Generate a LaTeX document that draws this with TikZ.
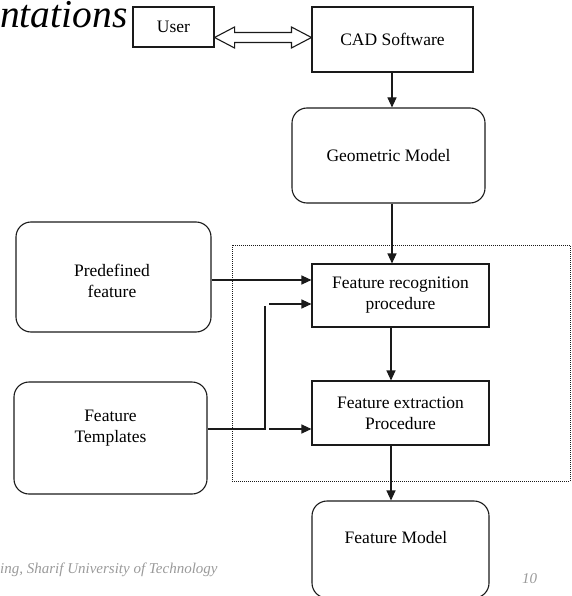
\documentclass[tikz,border=0pt]{standalone}
\usepackage{fontspec}
\setmainfont{Liberation Serif}
\usetikzlibrary{arrows.meta,calc}
\definecolor{ftgray}{HTML}{9A9A9A}
\definecolor{ink}{HTML}{1A1A1A}
\begin{document}
\begin{tikzpicture}[x=1pt,y=-1pt,
  box/.style={draw=ink, line width=1.1pt, inner sep=0pt, align=center, font=\fontsize{17.5}{21}\selectfont},
  rbox/.style={box, rounded corners=15pt},
  txt/.style={inner sep=0pt, align=center, font=\fontsize{17.5}{21}\selectfont},
  arr/.style={draw=ink, line width=1.1pt, -{Triangle[length=10pt,width=9pt]}},
  ln/.style={draw=ink, line width=1.1pt},
  grp/.style={draw=ink, line width=0.7pt, dash pattern=on 1pt off 1pt},
  foot/.style={anchor=base west, inner sep=0pt, text=ftgray, font=\fontsize{15}{18}\selectfont\itshape}]
\useasboundingbox (0,0) rectangle (571,596);

% title fragment
\node[anchor=base west, inner sep=0pt, font=\fontsize{39.5}{42}\selectfont\itshape] (ttl) at (0,28) {ntations};

% dotted group
\node[grp, minimum width=338pt, minimum height=236pt, inner sep=0pt] (grpbox) at (401,363) {};

% boxes
\node[box, minimum width=81pt, minimum height=40pt] (user) at (173.5,27) {User};
\node[box, minimum width=161pt, minimum height=65pt] (cad) at (392.5,39.5) {CAD Software};
\node[rbox, minimum width=193pt, minimum height=95pt] (geo) at (388.5,155.5) {Geometric Model};
\node[box, minimum width=177pt, minimum height=63pt] (rec) at (400.5,295.5) {Feature recognition\\procedure};
\node[box, minimum width=177pt, minimum height=64pt] (ext) at (400.5,413) {Feature extraction\\Procedure};
\node[rbox, minimum width=195pt, minimum height=110pt] (pre) at (113.5,277) {};
\node[txt] (pret) at (112,280.5) {Predefined\\feature};
\node[rbox, minimum width=193pt, minimum height=112pt] (tmp) at (110.5,438) {};
\node[txt] (tmpt) at (110.5,428.5) {Feature\\Templates};
\node[rbox, minimum width=177pt, minimum height=97pt] (fm) at (400.5,549.5) {};
\node[txt] (fmt) at (396,538) {Feature Model};

% helper coordinates
\coordinate (ax) at (392,0);
\coordinate (bx) at (391,0);
\coordinate (ya) at (0,280);
\coordinate (yb) at (0,304);
\coordinate (yc) at (0,429);
\coordinate (yd) at (0,306);
\coordinate (jx) at (265,0);
\coordinate (kx) at (269,0);
\coordinate (dy) at (0,37.5);
\coordinate (dl) at (user.east |- dy);
\coordinate (dr) at (cad.west |- dy);

% double arrow User <-> CAD
\draw[ln, line join=miter] (dl) -- ++(20,-10.5) -- ++(0,5.5) -- ($(dr)+(-20,-5)$) -- ++(0,-5.5) -- (dr)
  -- ++(-20,10.5) -- ++(0,-5.5) -- ($(dl)+(20,5)$) -- ++(0,5.5) -- cycle;

% vertical flow
\draw[arr] (cad.south -| ax) -- (geo.north -| ax);
\draw[arr] (geo.south -| ax) -- (rec.north -| ax);
\draw[arr] (rec.south -| bx) -- (ext.north -| bx);
\draw[arr] (ext.south -| bx) -- (fm.north -| bx);

% inputs
\draw[arr] (pre.east |- ya) -- (rec.west |- ya);
\draw[ln] (tmp.east |- yc) -- (jx |- yc) -- (jx |- yd);
\draw[arr] (kx |- yb) -- (rec.west |- yb);
\draw[arr] (kx |- yc) -- (ext.west |- yc);

% footer
\node[foot] (ftr) at (0,573) {ing, Sharif University of Technology};
\node[foot] (pg) at (522,583) {10};
\end{tikzpicture}
\end{document}
